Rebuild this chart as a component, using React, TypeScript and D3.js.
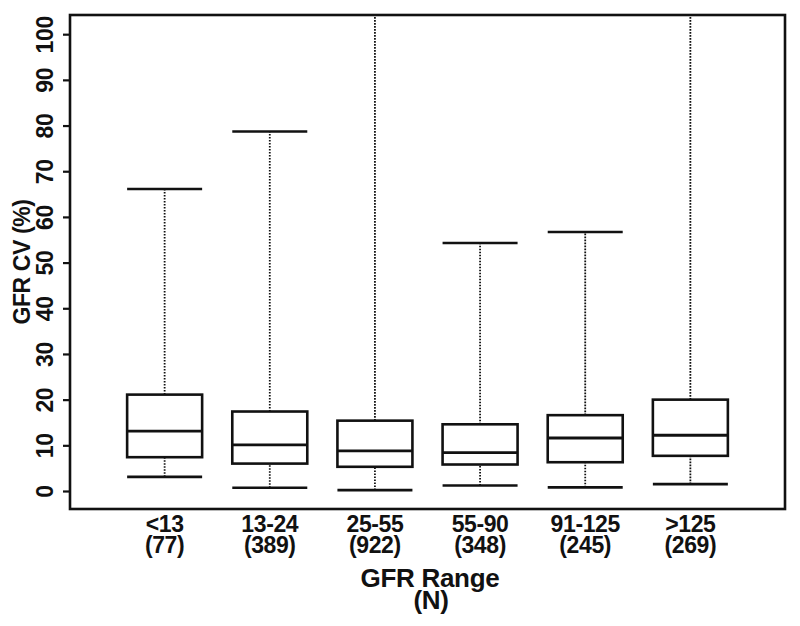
import React, { useEffect, useRef } from 'react';
import * as d3 from 'd3';

// GFR range categories and their counts
const ranges = ['<13', '13-24', '25-55', '55-90', '91-125', '>125'];
const counts = ['(77)', '(389)', '(922)', '(348)', '(245)', '(269)'];

// box plot statistics (GFR CV, %)
const whiskerLow = [3.1, 0.7, 0.2, 1.2, 0.8, 1.5];
const q1 = [7.4, 6.0, 5.3, 5.8, 6.3, 7.7];
const median = [13.1, 10.1, 8.8, 8.4, 11.6, 12.2];
const q3 = [21.1, 17.4, 15.4, 14.6, 16.6, 20.0];
const whiskerHigh = [66.1, 78.7, 112, 54.3, 56.7, 112];

const yTicks = [0, 10, 20, 30, 40, 50, 60, 70, 80, 90, 100];

const FONT = '"Liberation Sans", Arial, Helvetica, sans-serif';

function App() {
    const svgRef = useRef<SVGSVGElement>(null);

    useEffect(() => {
        document.body.style.margin = '0';

        const width = 800;
        const height = 626;
        const frame = { left: 70, right: 785, top: 15, bottom: 509 };

        const svg = d3.select(svgRef.current)
            .attr('width', width)
            .attr('height', height)
            .style('background-color', 'white');
        svg.selectAll('*').remove();

        // scales
        const x = d3.scalePoint<string>()
            .domain(ranges)
            .range([frame.left, frame.right])
            .padding(0.9);

        const y = d3.scaleLinear()
            .domain([-3.94, 104.2])
            .range([frame.bottom, frame.top]);

        const boxWidth = 75;
        const ink = '#111';

        // clip for whiskers that run off the top
        svg.append('defs').append('clipPath')
            .attr('id', 'plot-clip')
            .append('rect')
            .attr('x', frame.left)
            .attr('y', frame.top)
            .attr('width', frame.right - frame.left)
            .attr('height', frame.bottom - frame.top);

        const data = ranges.map((r, i) => ({
            r,
            lo: whiskerLow[i],
            q1: q1[i],
            med: median[i],
            q3: q3[i],
            hi: whiskerHigh[i],
        }));

        const plot = svg.append('g').attr('clip-path', 'url(#plot-clip)');

        const g = plot.selectAll('g.box')
            .data(data)
            .enter()
            .append('g')
            .attr('class', 'box');

        // dotted whiskers
        g.append('line')
            .attr('x1', (d) => x(d.r)!)
            .attr('x2', (d) => x(d.r)!)
            .attr('y1', (d) => y(d.q3))
            .attr('y2', (d) => y(d.hi))
            .attr('stroke', ink)
            .attr('stroke-width', 1.8)
            .attr('stroke-dasharray', '1.6,1.4');
        g.append('line')
            .attr('x1', (d) => x(d.r)!)
            .attr('x2', (d) => x(d.r)!)
            .attr('y1', (d) => y(d.lo))
            .attr('y2', (d) => y(d.q1))
            .attr('stroke', ink)
            .attr('stroke-width', 1.8)
            .attr('stroke-dasharray', '1.6,1.4');

        // whisker caps
        g.filter((d) => y(d.hi) > frame.top)
            .append('line')
            .attr('x1', (d) => x(d.r)! - boxWidth / 2)
            .attr('x2', (d) => x(d.r)! + boxWidth / 2)
            .attr('y1', (d) => y(d.hi))
            .attr('y2', (d) => y(d.hi))
            .attr('stroke', ink)
            .attr('stroke-width', 2.6);
        g.append('line')
            .attr('x1', (d) => x(d.r)! - boxWidth / 2)
            .attr('x2', (d) => x(d.r)! + boxWidth / 2)
            .attr('y1', (d) => y(d.lo))
            .attr('y2', (d) => y(d.lo))
            .attr('stroke', ink)
            .attr('stroke-width', 2.6);

        // boxes
        g.append('rect')
            .attr('x', (d) => x(d.r)! - boxWidth / 2)
            .attr('y', (d) => y(d.q3))
            .attr('width', boxWidth)
            .attr('height', (d) => y(d.q1) - y(d.q3))
            .attr('fill', 'white')
            .attr('stroke', ink)
            .attr('stroke-width', 2.6);

        // medians
        g.append('line')
            .attr('x1', (d) => x(d.r)! - boxWidth / 2)
            .attr('x2', (d) => x(d.r)! + boxWidth / 2)
            .attr('y1', (d) => y(d.med))
            .attr('y2', (d) => y(d.med))
            .attr('stroke', ink)
            .attr('stroke-width', 2.8);

        // frame
        svg.append('rect')
            .attr('x', frame.left)
            .attr('y', frame.top)
            .attr('width', frame.right - frame.left)
            .attr('height', frame.bottom - frame.top)
            .attr('fill', 'none')
            .attr('stroke', ink)
            .attr('stroke-width', 2.6);

        // y axis
        const yAxis = svg.append('g')
            .attr('transform', 'translate(' + frame.left + ',0)')
            .call(d3.axisLeft(y).tickValues(yTicks).tickSize(7).tickFormat(d3.format('d')));
        yAxis.select('.domain').remove();
        yAxis.selectAll('line').attr('stroke', ink).attr('stroke-width', 2.2);
        yAxis.selectAll('text')
            .attr('x', null)
            .attr('dy', null)
            .attr('transform', 'translate(-17,0) rotate(-90)')
            .attr('text-anchor', 'middle')
            .attr('fill', ink)
            .style('font-family', FONT)
            .style('font-weight', 'bold')
            .style('font-size', '23px')
            .style('letter-spacing', '-0.3px');

        // y title
        svg.append('text')
            .attr('transform', 'translate(30,262) rotate(-90)')
            .attr('text-anchor', 'middle')
            .attr('fill', ink)
            .style('font-family', FONT)
            .style('font-weight', 'bold')
            .style('font-size', '23px')
            .style('letter-spacing', '-0.4px')
            .text('GFR CV (%)');

        // x category labels
        const xl = svg.append('g');
        ranges.forEach((r, i) => {
            const t = xl.append('text')
                .attr('text-anchor', 'middle')
                .attr('fill', ink)
                .style('font-family', FONT)
                .style('font-weight', 'bold')
                .style('font-size', '23px')
                .style('letter-spacing', '-0.4px');
            t.append('tspan').attr('x', x(r)!).attr('y', 532).text(r);
            t.append('tspan').attr('x', x(r)!).attr('y', 553).text(counts[i]);
        });

        // x title
        const xt = svg.append('text')
            .attr('text-anchor', 'middle')
            .attr('fill', ink)
            .style('font-family', FONT)
            .style('font-weight', 'bold')
            .style('font-size', '26px')
            .style('letter-spacing', '-0.3px');
        xt.append('tspan').attr('x', 430).attr('y', 587).text('GFR Range');
        xt.append('tspan').attr('x', 431).attr('y', 609).text('(N)');
    }, []);

    return (
        <div id='boxplot'>
            <svg ref={svgRef} style={{ display: 'block' }}></svg>
        </div>
    );
}

export default App;
